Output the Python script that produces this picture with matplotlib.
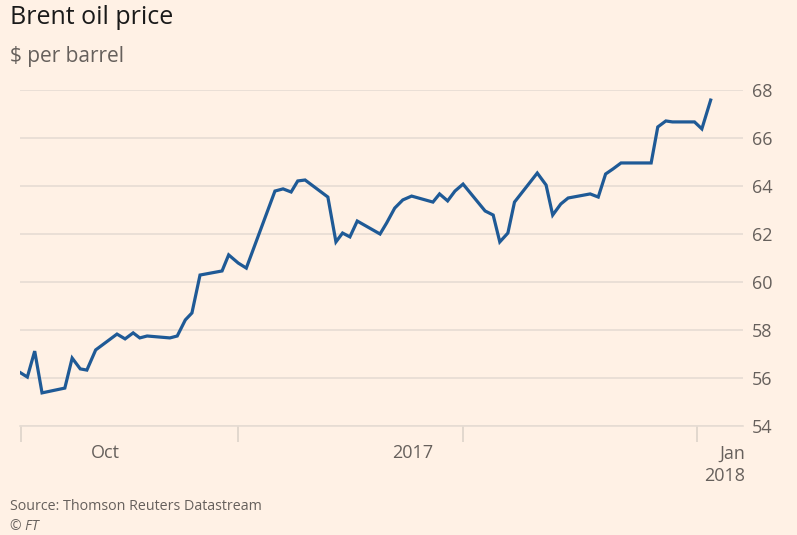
import matplotlib
matplotlib.use("Agg")
import matplotlib.pyplot as plt
from matplotlib.transforms import blended_transform_factory

# Days since 1 Oct 2017 and Brent price ($/barrel)
days = [-0.2, 0.9, 1.9, 2.9, 6.0, 7.0, 8.1, 9.0, 10.2, 13.1, 14.2, 15.3, 16.2, 17.2,
        20.3, 21.3, 22.4, 23.3, 24.4, 27.4, 28.3, 29.6, 30.7, 34.6, 35.7, 36.8, 37.7,
        38.7, 41.8, 42.9, 43.8, 44.8, 45.8, 48.9, 49.8, 50.9, 52.0, 53.2, 56.1, 57.0,
        58.1, 59.1, 60.2, 63.2, 64.3, 65.2, 66.3, 67.2, 70.3, 71.5, 72.4, 73.5, 74.5,
        77.5, 78.6, 79.6, 80.6, 81.7, 85.8, 86.7, 87.8, 88.7, 91.7, 92.7, 93.9]
prices = [56.25, 56.04, 57.12, 55.38, 55.58, 56.83, 56.38, 56.33, 57.17, 57.83, 57.63,
          57.88, 57.67, 57.75, 57.67, 57.75, 58.42, 58.71, 60.29, 60.46, 61.13, 60.79,
          60.58, 63.79, 63.88, 63.75, 64.21, 64.25, 63.54, 61.67, 62.04, 61.88, 62.54,
          62.00, 62.46, 63.08, 63.42, 63.58, 63.33, 63.67, 63.38, 63.79, 64.08, 62.96,
          62.79, 61.67, 62.04, 63.33, 64.54, 64.04, 62.79, 63.25, 63.50, 63.67, 63.54,
          64.50, 64.71, 64.96, 64.96, 66.46, 66.71, 66.67, 66.67, 66.38, 67.58]

y_ticks = [54, 56, 58, 60, 62, 64, 66, 68]
x_tick_days = [0, 29.6, 60.2, 92.0]
x_label_days = [11.5, 53.4]
x_labels = ["Oct", "2017"]
last_label = "Jan\n2018"

BG = "#FFF1E5"
LINE = "#1F5A96"
GRID = "#E6DCD3"
TXT = "#66605C"

W, H = 797, 535
fig = plt.figure(figsize=(W / 100, H / 100), dpi=100, facecolor=BG)
ax = fig.add_axes([20 / W, (H - 426) / H, (743 - 20) / W, (426 - 90) / H])
ax.set_facecolor(BG)

ax.plot(days, prices, color=LINE, lw=2.3, solid_joinstyle="miter", zorder=3)

ax.set_ylim(54, 68)
ax.set_xlim(-0.1, 98.3)
ax.set_yticks(y_ticks)
ax.yaxis.tick_right()
ax.tick_params(axis="y", length=0, pad=6.5, labelsize=13, labelcolor=TXT)
for t in ax.get_yticklabels():
    t.set_fontfamily("Open Sans")
ax.grid(axis="y", color=GRID, lw=1.2, zorder=0)

ax.set_xticks(x_tick_days)
ax.set_xticklabels([])
ax.tick_params(axis="x", length=11.5, width=1.2, color="#DDD3CA", direction="out")

for s in ["top", "left", "right"]:
    ax.spines[s].set_visible(False)
ax.spines["bottom"].set_color(GRID)
ax.spines["bottom"].set_linewidth(1.2)

trans = blended_transform_factory(ax.transData, ax.transAxes)
for d, lab in zip(x_label_days, x_labels):
    ax.text(d, -0.055, lab, transform=trans, ha="center", va="top",
            fontsize=13, color=TXT, family="Open Sans")
ax.text(1.003, -0.055, last_label, transform=ax.transAxes, ha="right", va="top",
        fontsize=13, color=TXT, family="Open Sans", linespacing=1.35)

fig.text(10 / W, 1 - 17 / H, "Brent oil price", fontsize=18, color="#1A1A1A",
         family="Open Sans", va="center", ha="left")
fig.text(10 / W, 1 - 57 / H, "$ per barrel", fontsize=15, color=TXT,
         family="Open Sans", va="center", ha="left")
fig.text(10 / W, 1 - 507 / H, "Source: Thomson Reuters Datastream", fontsize=10.3,
         color=TXT, family="Open Sans", va="center", ha="left")
fig.text(10 / W, 1 - 526 / H, "© FT", fontsize=10, color=TXT, style="italic",
         family="Open Sans", va="center", ha="left")

fig.savefig("out.png", dpi=100, facecolor=BG)
